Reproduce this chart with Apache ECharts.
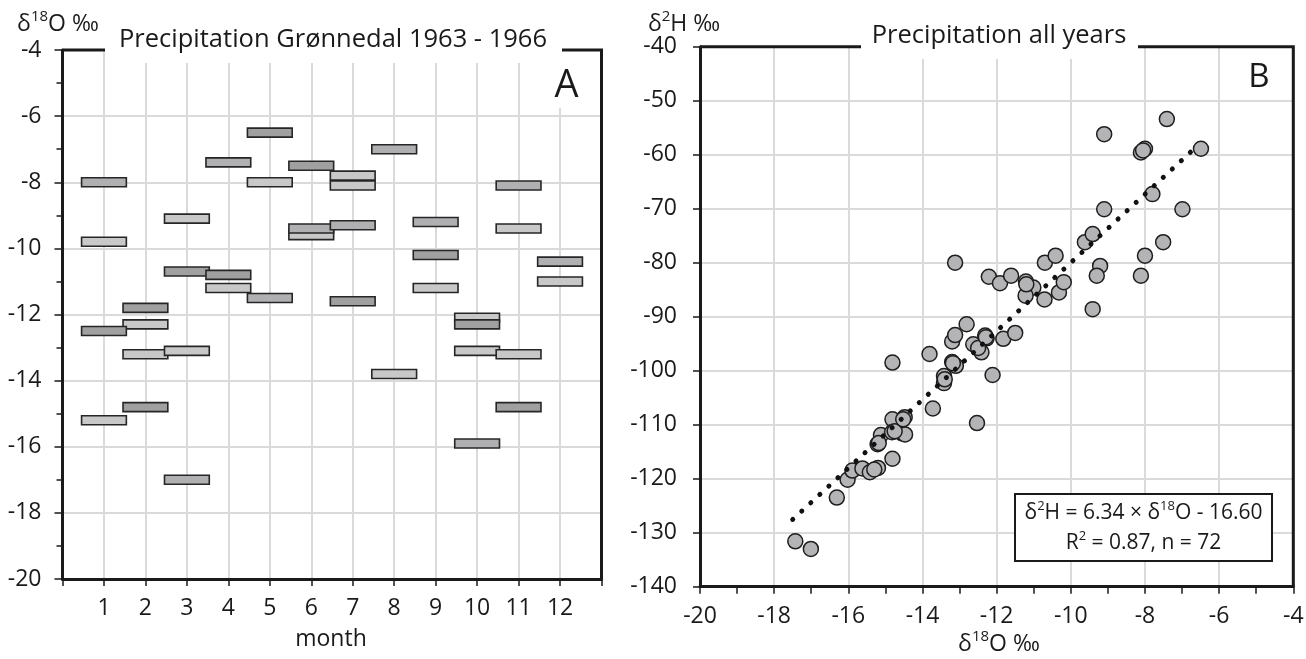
<!DOCTYPE html>
<html>
<head>
<meta charset="utf-8">
<script src="https://cdn.jsdelivr.net/npm/echarts@6/dist/echarts.min.js"></script>
<style>
html,body{margin:0;padding:0;background:#fff;}
#chart{width:1306px;height:659px;}
</style>
</head>
<body>
<div id="chart"></div>
<script>
// ---- Panel A: monthly precipitation δ18O, Grønnedal 1963 - 1966 ----
const monthLabels = ['1','2','3','4','5','6','7','8','9','10','11','12'];
// [month, δ18O ‰] grouped by bar shade
const barsLight = [[1,-9.8],[1,-15.2],[2,-12.3],[2,-13.2],[3,-9.1],[3,-13.1],[4,-11.2],[5,-8.0],[6,-9.6],[7,-7.8],[7,-8.1],[8,-13.8],[9,-11.2],[10,-12.1],[10,-13.1],[11,-9.4],[11,-13.2],[12,-11.0]];
const barsMid = [[1,-8.0],[3,-17.0],[4,-7.4],[5,-11.5],[6,-9.4],[7,-9.3],[8,-7.0],[9,-9.2],[10,-15.9],[11,-8.1],[12,-10.4]];
const barsDark = [[1,-12.5],[2,-11.8],[2,-14.8],[3,-10.7],[4,-10.8],[5,-6.5],[6,-7.5],[7,-11.6],[9,-10.2],[10,-12.3],[11,-14.8]];

// ---- Panel B: δ2H vs δ18O, all years ----
const d18O = [-17.43,-17.01,-16.31,-16.02,-15.89,-15.62,-15.42,-15.20,-14.81,-15.21,-15.12,-14.81,-14.82,-14.55,-14.48,-14.47,
  -14.81,-13.81,-13.72,-13.42,-13.42,-13.20,-13.10,-13.20,-13.12,-12.81,-12.63,-12.41,-12.53,-12.31,-12.27,-11.82,-11.50,-12.11,
  -13.12,-12.21,-11.91,-11.61,-11.21,-11.01,-11.22,-10.71,-10.32,-10.19,-10.70,-10.41,-9.62,-9.41,
  -7.41,-9.10,-8.11,-8.00,-6.49,-7.80,-9.10,-6.99,-7.51,-8.00,-9.21,-9.30,-8.11,-9.41,
  -15.30,-15.18,-14.75,-14.52,-13.40,-13.18,-12.50,-12.29,-11.20,-8.05];
const d2H = [-131.6,-133.0,-123.5,-120.2,-118.5,-118.1,-118.8,-118.0,-116.3,-113.6,-111.9,-109.0,-111.4,-111.6,-108.6,-111.8,
  -98.5,-96.9,-107.0,-101.0,-102.3,-98.4,-99.1,-94.6,-93.4,-91.4,-95.1,-96.6,-109.7,-93.5,-94.0,-94.1,-93.0,-100.8,
  -80.0,-82.6,-83.8,-82.4,-83.5,-84.6,-86.1,-86.8,-85.5,-83.6,-80.0,-78.7,-76.2,-74.7,
  -53.4,-56.2,-59.6,-58.9,-58.9,-67.3,-70.1,-70.1,-76.2,-78.7,-80.6,-82.4,-82.4,-88.6,
  -118.3,-113.4,-111.2,-109.0,-101.6,-98.6,-95.8,-93.8,-84.0,-59.2];
// regression: δ2H = slope × δ18O + intercept
const slope = 6.34, intercept = -16.60, r2 = 0.87;
const fitRange = [-17.5, -6.6];

const FONT = 'Open Sans';
const INK = '#1a1a1a';
const GRID_LINE = '#dadada';

// plot rectangles of the two panels (px)
const boxA = {left: 62.5, top: 50, right: 601.5, bottom: 579};
const boxB = {left: 700, top: 46.7, right: 1293.3, bottom: 586.7};

const chart = echarts.init(document.getElementById('chart'), null, {renderer: 'canvas'});

function barRenderer(fill) {
  return function (params, api) {
    const m = api.value(0), v = api.value(1);
    const a = api.coord([m - 0.54, v]);
    const b = api.coord([m + 0.54, v]);
    const h = 9;
    return {
      type: 'rect',
      shape: {x: a[0], y: a[1] - h / 2, width: b[0] - a[0], height: h},
      style: {fill: fill, stroke: '#262626', lineWidth: 1.6}
    };
  };
}

function richSet(size, supSize) {
  return {
    n: {fontFamily: FONT, fontSize: size, lineHeight: Math.round(size * 1.3), color: INK},
    s: {fontFamily: FONT, fontSize: supSize, lineHeight: supSize + 1, verticalAlign: 'top', color: INK}
  };
}
const rich = richSet(23, 15);
const richEq = richSet(21, 13);

function txt(x, y, text, opts) {
  return {
    type: 'text', x: x, y: y, z: 20,
    style: Object.assign({text: text, rich: rich, fontFamily: FONT, fontSize: 23, fill: INK,
      align: 'center', verticalAlign: 'middle'}, opts || {})
  };
}

function frame(b) {
  return {
    type: 'polyline', z: 5,
    shape: {points: [[b.left, b.top], [b.right, b.top], [b.right, b.bottom]]},
    style: {stroke: INK, lineWidth: 3, fill: null}
  };
}

const fitData = fitRange.map(x => [x, slope * x + intercept]);
const axisText = {fontFamily: FONT, fontSize: 23, color: INK};

const option = {
  backgroundColor: '#fff',
  animation: false,
  grid: [
    {left: boxA.left, top: boxA.top, width: boxA.right - boxA.left, height: boxA.bottom - boxA.top, containLabel: false, outerBoundsMode: 'none'},
    {left: boxB.left, top: boxB.top, width: boxB.right - boxB.left, height: boxB.bottom - boxB.top, containLabel: false, outerBoundsMode: 'none'}
  ],
  xAxis: [
    {
      type: 'value', gridIndex: 0, min: 0, max: 13, interval: 1,
      axisLine: {onZero: false, lineStyle: {color: INK, width: 3}},
      axisTick: {show: true, length: 7, lineStyle: {color: INK, width: 1.5}},
      axisLabel: Object.assign({margin: 18, formatter: v => (v >= 1 && v <= 12) ? monthLabels[v - 1] : ''}, axisText),
      splitLine: {show: true, lineStyle: {color: GRID_LINE, width: 2}}
    },
    {
      type: 'value', gridIndex: 1, min: -20, max: -4, interval: 2,
      axisLine: {onZero: false, lineStyle: {color: INK, width: 3}},
      axisTick: {show: true, length: 7, lineStyle: {color: INK, width: 1.5}},
      minorTick: {show: true, splitNumber: 2, length: 7, lineStyle: {color: INK, width: 1.5}},
      axisLabel: Object.assign({margin: 18}, axisText),
      splitLine: {show: true, lineStyle: {color: GRID_LINE, width: 2}}
    }
  ],
  yAxis: [
    {
      type: 'value', gridIndex: 0, min: -20, max: -4, interval: 2,
      axisLine: {onZero: false, lineStyle: {color: INK, width: 3}},
      axisTick: {show: true, length: 8, lineStyle: {color: INK, width: 1.5}},
      minorTick: {show: true, splitNumber: 2, length: 6, lineStyle: {color: INK, width: 1.5}},
      axisLabel: Object.assign({margin: 21}, axisText),
      splitLine: {show: true, lineStyle: {color: GRID_LINE, width: 2}}
    },
    {
      type: 'value', gridIndex: 1, min: -140, max: -40, interval: 10,
      axisLine: {onZero: false, lineStyle: {color: INK, width: 3}},
      axisTick: {show: true, length: 7, lineStyle: {color: INK, width: 1.5}},
      axisLabel: Object.assign({margin: 23}, axisText),
      splitLine: {show: true, lineStyle: {color: GRID_LINE, width: 2}}
    }
  ],
  series: [
    {type: 'custom', xAxisIndex: 0, yAxisIndex: 0, data: barsLight, renderItem: barRenderer('#c8c8c8'), z: 3},
    {type: 'custom', xAxisIndex: 0, yAxisIndex: 0, data: barsMid, renderItem: barRenderer('#b0b0b2'), z: 3},
    {type: 'custom', xAxisIndex: 0, yAxisIndex: 0, data: barsDark, renderItem: barRenderer('#a0a0a0'), z: 3},
    {
      type: 'scatter', xAxisIndex: 1, yAxisIndex: 1,
      data: d18O.map((x, i) => [x, d2H[i]]),
      symbol: 'circle', symbolSize: 15,
      itemStyle: {color: '#b4b4b7', borderColor: '#1e1e1e', borderWidth: 1.5, opacity: 1},
      z: 3
    },
    {
      type: 'line', xAxisIndex: 1, yAxisIndex: 1, data: fitData,
      symbol: 'none', silent: true,
      lineStyle: {color: '#111', width: 5, type: [0.1, 12.2], cap: 'round'},
      z: 4
    }
  ],
  graphic: [
    frame(boxA),
    frame(boxB),
    // Panel A header
    {type: 'rect', shape: {x: 105, y: 26, width: 457, height: 37}, style: {fill: '#fff'}, z: 10},
    txt(333, 40, 'Precipitation Grønnedal 1963 - 1966', {fontSize: 25.5}),
    {type: 'rect', shape: {x: 548, y: 62, width: 42, height: 46}, style: {fill: '#fff'}, z: 10},
    txt(566.5, 86, 'A', {fontSize: 38}),
    txt(58, 24, '{n|δ}{s|18}{n|O ‰}'),
    txt(331, 639, 'month'),
    // Panel B header
    {type: 'rect', shape: {x: 861, y: 24, width: 277, height: 35}, style: {fill: '#fff'}, z: 10},
    txt(999, 36, 'Precipitation all years', {fontSize: 25.5}),
    {type: 'rect', shape: {x: 1240, y: 58, width: 40, height: 40}, style: {fill: '#fff'}, z: 10},
    txt(1259, 78, 'B', {fontSize: 33}),
    txt(684, 24, '{n|δ}{s|2}{n|H ‰}'),
    txt(999, 644, '{n|δ}{s|18}{n|O ‰}'),
    // Regression summary box
    {type: 'rect', shape: {x: 1015, y: 494, width: 257, height: 67}, style: {fill: '#fff', stroke: INK, lineWidth: 2}, z: 15},
    txt(1143.5, 513, '{n|δ}{s|2}{n|H = ' + slope.toFixed(2) + ' × δ}{s|18}{n|O - ' + Math.abs(intercept).toFixed(2) + '}', {rich: richEq}),
    txt(1143.5, 543, '{n|R}{s|2}{n| = ' + r2.toFixed(2) + ', n = ' + d18O.length + '}', {rich: richEq})
  ]
};

chart.setOption(option);
</script>
</body>
</html>
